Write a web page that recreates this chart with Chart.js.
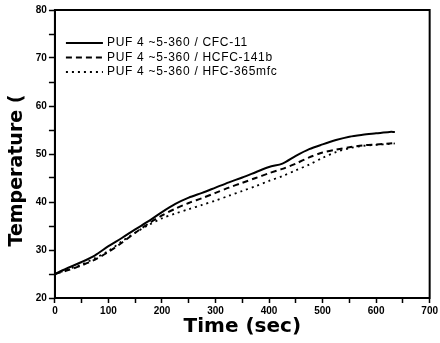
<!DOCTYPE html>
<html>
<head>
<meta charset="utf-8">
<script src="https://cdn.jsdelivr.net/npm/chart.js@4/dist/chart.umd.min.js"></script>
<style>
html,body{margin:0;padding:0;background:#fff;}
#c{display:block;}
</style>
</head>
<body>
<canvas id="c" width="440" height="343"></canvas>
<script>
const times = [0,25,50,75,100,125,150,175,200,225,250,275,300,325,350,375,400,425,450,475,500,525,550,575,600,625,635];
const cfc11 = [25.0,26.3,27.5,28.9,30.8,32.5,34.3,36.0,37.9,39.6,40.9,41.9,43.0,44.1,45.1,46.2,47.3,48.0,49.6,51.0,52.0,52.9,53.6,54.0,54.3,54.6,54.6];
const hcfc141b = [25.0,25.8,26.8,28.0,29.6,31.5,33.6,35.5,37.2,38.6,39.8,40.8,41.9,43.0,44.0,45.0,46.0,46.9,48.0,49.3,50.3,50.9,51.4,51.8,52.0,52.2,52.3];
const hfc365 = [25.0,26.0,27.0,28.3,29.8,31.8,33.6,35.2,36.6,37.6,38.5,39.4,40.3,41.3,42.3,43.3,44.4,45.4,46.6,47.8,49.2,50.4,51.2,51.7,51.9,52.1,52.2];
const seriesLabels = ['PUF 4 ~5-360 / CFC-11','PUF 4 ~5-360 / HCFC-141b','PUF 4 ~5-360 / HFC-365mfc'];
const xTitle = 'Time (sec)';
const yTitle = 'Temperature (';

const toXY = arr => arr.map((v,i)=>({x:times[i], y:v}));
const FONT = "'Liberation Sans', Arial, sans-serif";
const TFONT = "'DejaVu Sans', sans-serif";

const framePlugin = {
  id:'frame',
  afterDatasetsDraw(chart){
    const {ctx, chartArea:a} = chart;
    ctx.save();
    ctx.strokeStyle = '#000';
    ctx.lineWidth = 2;
    ctx.strokeRect(a.left, a.top, a.right-a.left, a.bottom-a.top);
    ctx.restore();
  }
};
const legendPlugin = {
  id:'inlegend',
  afterDatasetsDraw(chart){
    const {ctx, chartArea:a} = chart;
    ctx.save();
    chart.data.datasets.forEach((ds,i)=>{
      const y = a.top + 33 + i*14.5;
      ctx.beginPath();
      ctx.strokeStyle = '#000';
      ctx.lineWidth = ds.borderWidth;
      ctx.setLineDash(ds.borderDash || []);
      ctx.moveTo(a.left+11, y);
      ctx.lineTo(a.left+48, y);
      ctx.stroke();
      ctx.setLineDash([]);
      ctx.fillStyle = '#000';
      ctx.font = "12px " + FONT;
      try { ctx.letterSpacing = '0.7px'; } catch(e) {}
      ctx.textBaseline = 'middle';
      ctx.fillText(ds.label, a.left+52, y);
    });
    ctx.restore();
  }
};

new Chart(document.getElementById('c'), {
  type:'line',
  data:{
    datasets:[
      {label:seriesLabels[0], data:toXY(cfc11), borderColor:'#000', borderWidth:2, pointRadius:0, tension:0.3, fill:false},
      {label:seriesLabels[1], data:toXY(hcfc141b), borderColor:'#000', borderWidth:2, borderDash:[6,4], pointRadius:0, tension:0.3, fill:false},
      {label:seriesLabels[2], data:toXY(hfc365), borderColor:'#000', borderWidth:1.8, borderDash:[2,4], pointRadius:0, tension:0.3, fill:false}
    ]
  },
  options:{
    responsive:false,
    devicePixelRatio:1,
    animation:false,
    layout:{padding:{left:6, right:4, top:10, bottom:8}},
    plugins:{legend:{display:false}, tooltip:{enabled:false}},
    scales:{
      x:{
        type:'linear', min:0, max:700,
        ticks:{stepSize:50, autoSkip:false, maxRotation:0, color:'#000', padding:2,
          font:{family:FONT, size:10, weight:'bold'},
          callback:v => (v%100===0 ? String(v) : '')},
        grid:{drawOnChartArea:false, tickLength:5, color:'#000', tickWidth:1.5},
        border:{display:true, color:'#000', width:2},
        title:{display:true, text:xTitle, color:'#000', font:{family:TFONT, size:20, weight:'bold', lineHeight:0.8}, padding:{top:0,bottom:0}}
      },
      y:{
        min:20, max:80,
        ticks:{stepSize:5, autoSkip:false, color:'#000', padding:2,
          font:{family:FONT, size:10, weight:'bold'},
          callback:v => (v%10===0 ? String(v) : '')},
        grid:{drawOnChartArea:false, tickLength:6, color:'#000', tickWidth:1.5},
        border:{display:true, color:'#000', width:2},
        title:{display:true, text:yTitle + '     ', color:'#000', font:{family:TFONT, size:19, weight:'bold'}, padding:{top:0,bottom:5}}
      }
    }
  },
  plugins:[framePlugin, legendPlugin]
});
</script>
</body>
</html>
